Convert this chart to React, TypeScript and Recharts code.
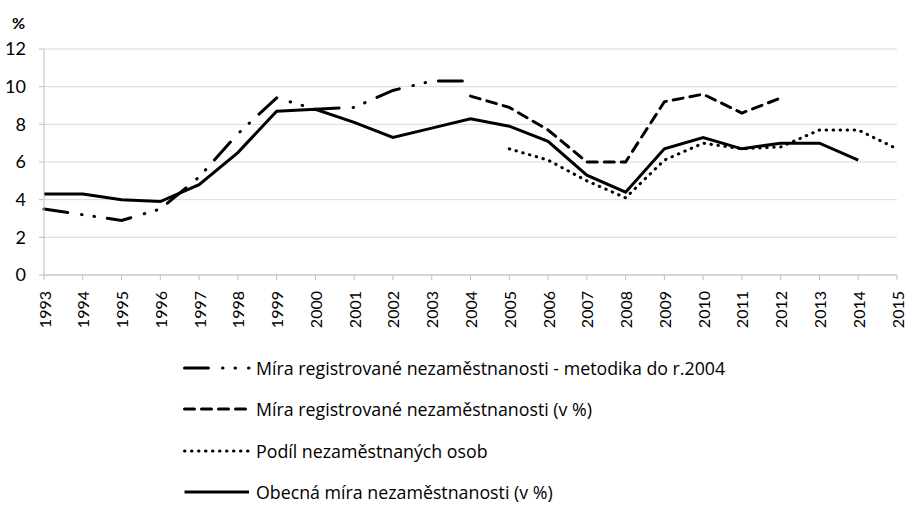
import React from "react";
import { CartesianGrid, Line, LineChart, XAxis, YAxis } from "recharts";

// roky 1993–2015
const years = [
  "1993", "1994", "1995", "1996", "1997", "1998", "1999", "2000", "2001", "2002", "2003", "2004",
  "2005", "2006", "2007", "2008", "2009", "2010", "2011", "2012", "2013", "2014", "2015",
];

// Míra registrované nezaměstnanosti - metodika do r.2004
const regOld: (number | null)[] = [
  3.5, 3.2, 2.9, 3.5, 5.2, 7.5, 9.4, 8.8, 8.9, 9.8, 10.3, 10.3,
  null, null, null, null, null, null, null, null, null, null, null,
];
// Míra registrované nezaměstnanosti (v %)
const regNew: (number | null)[] = [
  null, null, null, null, null, null, null, null, null, null, null, 9.5,
  8.9, 7.7, 6.0, 6.0, 9.2, 9.6, 8.6, 9.4, null, null, null,
];
// Podíl nezaměstnaných osob
const share: (number | null)[] = [
  null, null, null, null, null, null, null, null, null, null, null, null,
  6.7, 6.1, 5.0, 4.1, 6.1, 7.0, 6.7, 6.8, 7.7, 7.7, 6.7,
];
// Obecná míra nezaměstnanosti (v %)
const general: (number | null)[] = [
  4.3, 4.3, 4.0, 3.9, 4.8, 6.5, 8.7, 8.8, 8.1, 7.3, 7.8, 8.3,
  7.9, 7.1, 5.3, 4.4, 6.7, 7.3, 6.7, 7.0, 7.0, 6.1, null,
];

const yTicks = [0, 2, 4, 6, 8, 10, 12];

const FONT = "Lato, 'Noto Sans', sans-serif";
const LEGEND_FONT = "'Open Sans', Lato, sans-serif";

const series = [
  { key: "regOld", name: "Míra registrované nezaměstnanosti - metodika do r.2004", dash: "24 14 0.5 12 0.5 13" },
  { key: "regNew", name: "Míra registrované nezaměstnanosti (v %)", dash: "10 7" },
  { key: "share", name: "Podíl nezaměstnaných osob", dash: "0.5 6.5" },
  { key: "general", name: "Obecná míra nezaměstnanosti (v %)", dash: undefined as string | undefined },
];

const data = years.map((y, i) => ({
  year: y,
  regOld: regOld[i],
  regNew: regNew[i],
  share: share[i],
  general: general[i],
}));

function YearTick({ x, y, payload }: any) {
  return (
    <text
      x={x}
      y={y}
      transform={`rotate(-90, ${x}, ${y})`}
      textAnchor="end"
      dominantBaseline="central"
      fontSize={16}
      fontFamily={FONT}
      fill="#000"
    >
      {payload.value}
    </text>
  );
}

export default function App() {
  return (
    <div style={{ position: "absolute", left: 0, top: 0, width: 907, height: 506, background: "#fff", fontFamily: FONT }}>
      <LineChart width={907} height={340} data={data} margin={{ top: 49, right: 10, bottom: 0, left: 0 }}>
        <CartesianGrid vertical={false} stroke="#d9d9d9" />
        <XAxis
          dataKey="year"
          interval={0}
          height={65}
          tickSize={5}
          tickMargin={11}
          stroke="#bfbfbf"
          tick={<YearTick />}
        />
        <YAxis
          width={44}
          domain={[0, 12]}
          ticks={yTicks}
          tickSize={5}
          tickMargin={13}
          stroke="#bfbfbf"
          tick={{ fontSize: 18, fill: "#000", fontFamily: FONT }}
        />
        {series.map((s) => (
          <Line
            key={s.key}
            type="linear"
            dataKey={s.key}
            name={s.name}
            stroke="#000"
            strokeWidth={3}
            strokeDasharray={s.dash}
            strokeLinecap={s.dash ? "round" : "butt"}
            dot={false}
            activeDot={false}
            isAnimationActive={false}
          />
        ))}
      </LineChart>
      <div style={{ position: "absolute", left: 12, top: 13, fontSize: 16, fontWeight: 700 }}>%</div>
      {series.map((s, i) => (
        <div
          key={s.key}
          style={{
            position: "absolute",
            left: 183,
            top: 368 + i * 41.3 - 13,
            height: 26,
            display: "flex",
            alignItems: "center",
            fontSize: 17.8,
            fontFamily: LEGEND_FONT,
            whiteSpace: "nowrap",
          }}
        >
          <svg width={68} height={10} style={{ marginRight: 5 }}>
            <line
              x1={1.5}
              y1={5}
              x2={66}
              y2={5}
              stroke="#000"
              strokeWidth={3}
              strokeDasharray={s.dash}
              strokeLinecap={s.dash ? "round" : "butt"}
            />
          </svg>
          <span>{s.name}</span>
        </div>
      ))}
    </div>
  );
}
